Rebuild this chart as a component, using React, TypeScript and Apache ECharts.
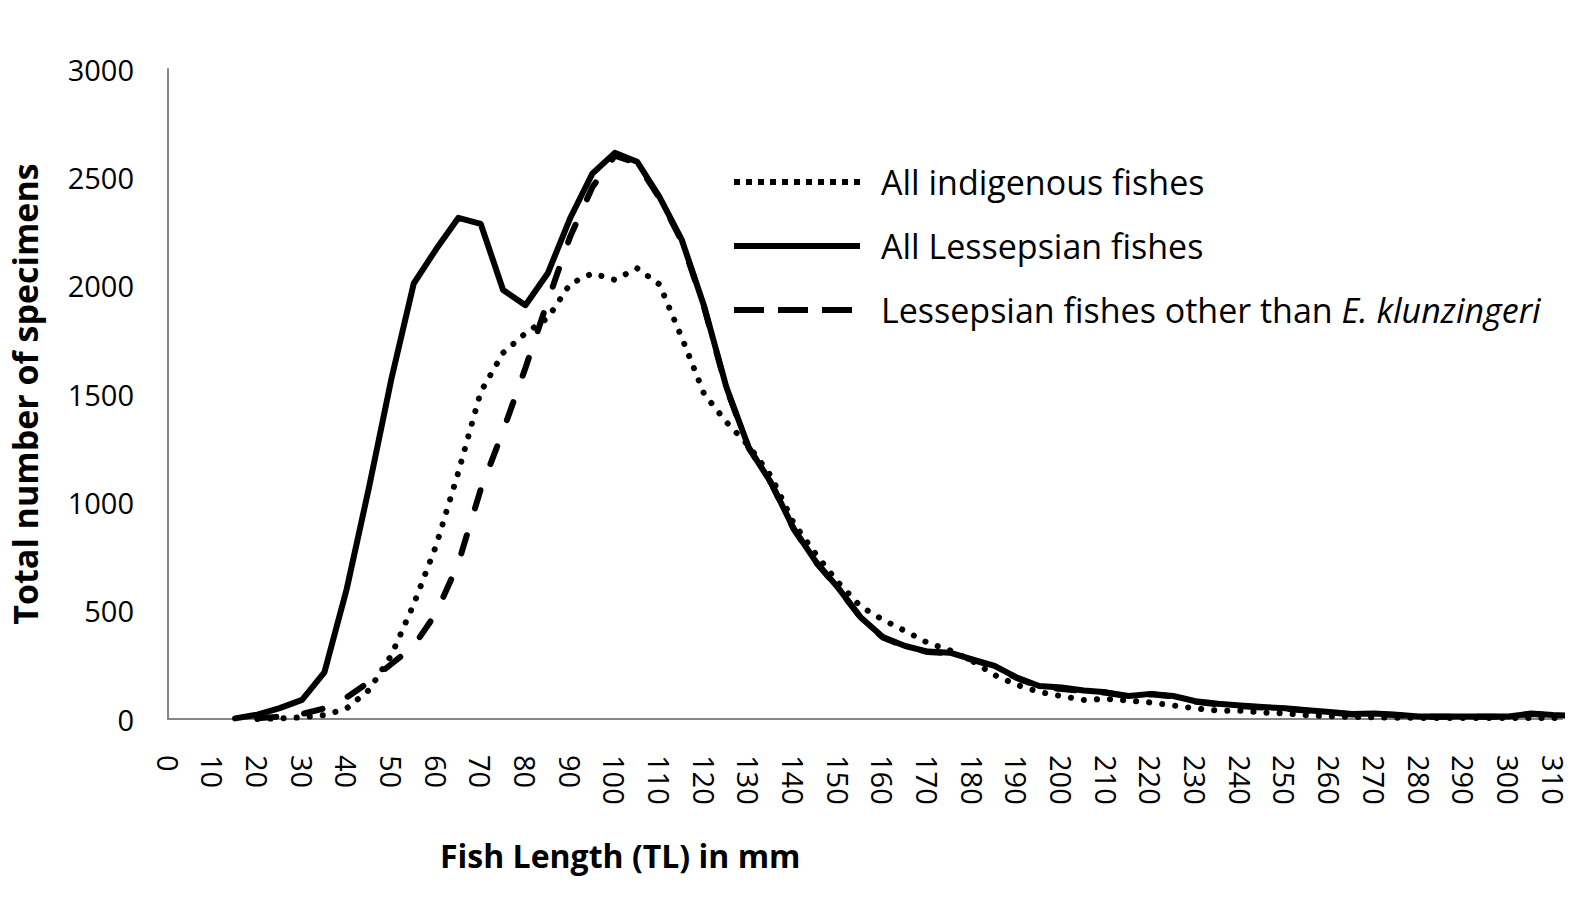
import React, { useEffect, useRef } from "react";
import * as echarts from "echarts";

// Fish total length (mm), one point every 5 mm
const lengths = [
  15, 20, 25, 30, 35, 40, 45, 50, 55, 60, 65, 70, 75, 80, 85, 90, 95, 100, 105, 110,
  115, 120, 125, 130, 135, 140, 145, 150, 155, 160, 165, 170, 175, 180, 185, 190, 195, 200, 205, 210,
  215, 220, 225, 230, 235, 240, 245, 250, 255, 260, 265, 270, 275, 280, 285, 290, 295, 300, 305, 310, 315,
];

const allIndigenous = [
  null, 0, 3, 8, 18, 49, 134, 295, 530, 800, 1140, 1510, 1690, 1780, 1851, 2008, 2057, 2027, 2080, 2006,
  1760, 1500, 1370, 1260, 1120, 905, 760, 630, 520, 458, 406, 352, 317, 268, 203, 157, 125, 105, 88, 93,
  85, 76, 62, 49, 39, 38, 30, 26, 17, 13, 10, 8, 6, 5, 5, 5, 5, 5, 5, 5, 5,
];

const allLessepsian = [
  3, 20, 50, 88, 215, 600, 1070, 1570, 2010, 2168, 2313, 2285, 1980, 1910, 2057, 2311, 2518, 2613, 2572, 2410,
  2211, 1905, 1530, 1252, 1090, 880, 726, 605, 470, 378, 337, 311, 306, 275, 245, 191, 152, 145, 132, 123,
  106, 116, 106, 82, 70, 62, 55, 50, 40, 32, 23, 25, 20, 12, 11, 11, 11, 12, 25, 18, 14,
];

const lessepsianOther = [
  null, 3, 11, 23, 49, 100, 171, 254, 337, 488, 720, 1060, 1330, 1620, 1930, 2226, 2455, 2600, 2565, 2405,
  2205, 1900, 1525, 1250, 1088, 878, 724, 603, 468, 376, 335, 309, 304, 273, 243, 189, 150, 138, 130, 121,
  104, 114, 104, 80, 68, 60, 53, 48, 38, 30, 21, 23, 18, 11, 10, 10, 10, 11, 23, 17, 13,
];

const seriesNames = [
  "All indigenous fishes",
  "All Lessepsian fishes",
  "Lessepsian fishes other than E. klunzingeri",
];

const xTitle = "Fish Length (TL) in mm";
const yTitle = "Total number of specimens";

const FONT = "'Open Sans', 'Noto Sans', sans-serif";

function pairs(values: (number | null)[]) {
  const out: [number, number][] = [];
  lengths.forEach((l, i) => {
    const v = values[i];
    if (v !== null && v !== undefined) out.push([l, v]);
  });
  return out;
}

const hiddenSymbol = { opacity: 0, color: "rgba(0,0,0,0)", borderWidth: 0, borderColor: "rgba(0,0,0,0)" };

export default function App() {
  const ref = useRef<HTMLDivElement>(null);

  useEffect(() => {
    if (!ref.current) return;
    const chart = echarts.init(ref.current, null, { renderer: "svg" });
    const option = {
      animation: false,
      backgroundColor: "#ffffff",
      color: ["#000", "#000", "#000"],
      grid: { left: 168, right: 13, top: 69, bottom: 183 },
      legend: {
        orient: "vertical",
        left: 726,
        top: 160,
        itemWidth: 126,
        itemHeight: 36,
        itemGap: 30,
        selectedMode: false,
        itemStyle: hiddenSymbol,
        data: [
          { name: seriesNames[0], itemStyle: hiddenSymbol, lineStyle: { color: "#000", width: 6, type: [6, 6], cap: "butt" } },
          { name: seriesNames[1], itemStyle: hiddenSymbol, lineStyle: { color: "#000", width: 6, type: "solid", cap: "butt" } },
          { name: seriesNames[2], itemStyle: hiddenSymbol, lineStyle: { color: "#000", width: 6, type: [30, 14], cap: "butt" } },
        ],
        formatter: (name: string) => {
          if (name === seriesNames[2]) return "{n|Lessepsian fishes other than }{i|E. klunzingeri}";
          return "{n|" + name + "}";
        },
        textStyle: {
          color: "#000",
          fontFamily: FONT,
          fontSize: 34,
          rich: {
            n: { fontFamily: FONT, fontSize: 34, color: "#000", padding: [0, 0, 0, 16] },
            i: { fontFamily: FONT, fontSize: 34, color: "#000", fontStyle: "italic" },
          },
        },
      },
      xAxis: {
        type: "value",
        min: 0,
        max: 312,
        interval: 10,
        splitLine: { show: false },
        axisTick: { show: false },
        axisLine: { show: true, lineStyle: { color: "#868686", width: 2 } },
        axisLabel: {
          rotate: -90,
          margin: 36,
          color: "#000",
          fontFamily: FONT,
          fontSize: 29,
          formatter: (v: number) => (v % 10 === 0 ? String(v) : ""),
        },
      },
      yAxis: {
        type: "value",
        min: 0,
        max: 3000,
        interval: 500,
        splitLine: { show: false },
        axisTick: { show: false },
        axisLine: { show: true, lineStyle: { color: "#868686", width: 2 } },
        axisLabel: {
          margin: 34,
          color: "#000",
          fontFamily: FONT,
          fontSize: 29,
          formatter: (v: number) => String(v),
        },
        name: yTitle,
        nameLocation: "middle",
        nameRotate: 90,
        nameGap: 126,
        nameTextStyle: {
          color: "#000",
          fontFamily: FONT,
          fontSize: 34,
          fontWeight: "bold",
        },
      },
      graphic: [
        {
          type: "text",
          left: 440,
          top: 839,
          style: {
            text: xTitle,
            fill: "#000",
            font: "bold 32px " + FONT,
          },
        },
      ],
      series: [
        {
          name: seriesNames[0],
          type: "line",
          data: pairs(allIndigenous),
          symbol: "none",
          z: 3,
          itemStyle: { color: "#000" },
          lineStyle: { color: "#000", width: 6, type: [0.1, 13], cap: "round", join: "round" },
        },
        {
          name: seriesNames[1],
          type: "line",
          data: pairs(allLessepsian),
          symbol: "none",
          z: 4,
          itemStyle: { color: "#000" },
          lineStyle: { color: "#000", width: 6, type: "solid", cap: "round", join: "round" },
        },
        {
          name: seriesNames[2],
          type: "line",
          data: pairs(lessepsianOther),
          symbol: "none",
          z: 2,
          itemStyle: { color: "#000" },
          lineStyle: { color: "#000", width: 6, type: [19, 28], cap: "round", join: "round" },
        },
      ],
    };
    chart.setOption(option as any);
    return () => chart.dispose();
  }, []);

  return (
    <div
      ref={ref}
      style={{ position: "absolute", left: 0, top: 0, width: 1575, height: 902, background: "#fff" }}
    />
  );
}
